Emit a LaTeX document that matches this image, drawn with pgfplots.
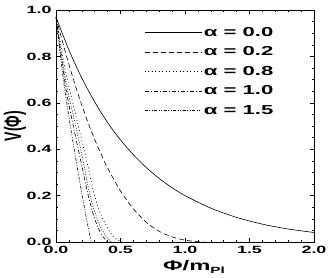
\documentclass[border=0pt]{standalone}
\usepackage{pgfplots}
\pgfplotsset{compat=1.18}
\usepackage{fontspec}
\setmainfont{Liberation Sans}[FakeStretch=1.7]
\newfontfamily\plainsans{Liberation Sans}
\begin{document}
\begin{tikzpicture}
\useasboundingbox (-56pt,-35pt) rectangle (276pt,242pt);
\begin{axis}[at={(0pt,0pt)}, anchor=south west, scale only axis,
  width=258pt, height=232pt,
  xmin=0, xmax=2, ymin=0, ymax=1,
  xtick={0,0.5,1,1.5,2}, ytick={0,0.2,0.4,0.6,0.8,1.0},
  minor x tick num=4, minor y tick num=3,
  tick align=inside, major tick length=4pt, minor tick length=2pt,
  axis line style={line width=0.8pt},
  every tick/.style={black, line width=0.5pt},
  tick label style={font=\bfseries\fontsize{10.5}{12}\selectfont},
  /pgf/number format/assume math mode=true,
  xticklabel style={yshift=-1pt, /pgf/number format/.cd, fixed, fixed zerofill, precision=1},
  yticklabel style={xshift=-1pt, /pgf/number format/.cd, fixed, fixed zerofill, precision=1},
  xlabel={\bfseries\fontsize{14}{14}\selectfont Φ/m\raisebox{-3pt}{\fontsize{9}{9}\selectfont Pl}},
  xlabel style={at={(axis description cs:0.535,-0.108)}, anchor=center},
  ylabel={\plainsans\bfseries\fontsize{14}{14}\selectfont\scalebox{1}[1.7]{V(Φ)}},
  ylabel style={at={(axis description cs:-0.159,0.5)}, anchor=center},
  legend style={at={(0.33,0.945)}, anchor=north west, draw=none, fill=none,
    font=\bfseries\fontsize{13}{13}\selectfont, row sep=5pt},
  legend cell align=left,
  legend image code/.code={\draw[#1] (0pt,0pt) -- (57pt,0pt);},
  every axis plot/.append style={line width=0.6pt, black},
]
\addplot[solid, smooth] coordinates {
(0,0.97)(0.1,0.828)(0.2,0.707)(0.3,0.604)(0.4,0.515)(0.5,0.440)(0.6,0.376)(0.7,0.321)(0.8,0.274)(0.9,0.234)(1.0,0.200)(1.2,0.146)(1.4,0.106)(1.6,0.077)(1.8,0.056)(2.0,0.041)};
\addlegendentry{α = 0.0}
\addplot[dash pattern=on 5pt off 3pt, smooth] coordinates {
(0,0.97)(0.05,0.864)(0.1,0.766)(0.15,0.674)(0.2,0.59)(0.25,0.513)(0.3,0.442)(0.35,0.378)(0.4,0.319)(0.5,0.22)(0.6,0.143)(0.7,0.085)(0.8,0.046)(0.9,0.022)(1.0,0.008)(1.1,0.001)(1.15,0.0)};
\addlegendentry{α = 0.2}
\addplot[dash pattern=on 1pt off 2.5pt, smooth] coordinates {
(0,0.97)(0.04,0.84)(0.08,0.72)(0.173,0.50)(0.238,0.35)(0.29,0.22)(0.34,0.13)(0.4,0.06)(0.45,0.02)(0.51,0)};
\addlegendentry{α = 0.8}
\addplot[dash pattern=on 4pt off 2pt on 1pt off 2pt, smooth] coordinates {
(0,0.97)(0.04,0.80)(0.08,0.65)(0.134,0.50)(0.2,0.33)(0.25,0.20)(0.3,0.10)(0.35,0.035)(0.40,0.0)};
\addlegendentry{α = 1.0}
\addplot[dash pattern=on 3pt off 1.5pt on 1pt off 1.5pt on 1pt off 1.5pt, smooth] coordinates {
(0,0.97)(0.03,0.82)(0.06,0.69)(0.1,0.54)(0.15,0.37)(0.2,0.21)(0.24,0.09)(0.27,0.01)(0.28,0)};
\addlegendentry{α = 1.5}
\addplot[dash pattern=on 1pt off 1.5pt, smooth, forget plot] coordinates {
(0,0.97)(0.04,0.82)(0.08,0.68)(0.153,0.50)(0.217,0.33)(0.26,0.21)(0.3,0.13)(0.35,0.06)(0.4,0.015)(0.43,0)};
\end{axis}
\end{tikzpicture}
\end{document}
